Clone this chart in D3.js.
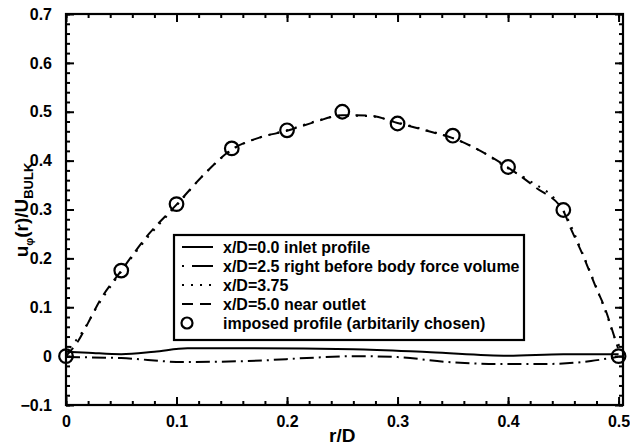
<!DOCTYPE html>
<html>
<head>
<meta charset="utf-8">
<script src="https://cdn.jsdelivr.net/npm/d3@7"></script>
<style>
  body { margin: 0; background: #fff; }
  text { font-family: "Liberation Sans", Arial, sans-serif; font-weight: bold; fill: #000; }
</style>
</head>
<body>
<div id="chart"></div>
<script>
// ---- data ----
var xTicks = [0, 0.1, 0.2, 0.3, 0.4, 0.5];
var yTicks = [-0.1, 0, 0.1, 0.2, 0.3, 0.4, 0.5, 0.6, 0.7];
var yTickLabels = ['\u22120.1', '0', '0.1', '0.2', '0.3', '0.4', '0.5', '0.6', '0.7'];

// x/D=0.0 inlet profile
var inletR = [0, 0.02, 0.05, 0.08, 0.11, 0.17, 0.26, 0.33, 0.40, 0.45, 0.50];
var inletU = [0.009, 0.007, 0.004, 0.009, 0.016, 0.016, 0.014, 0.008, 0.001, 0.004, 0.004];

// x/D=2.5 right before body force volume
var preR = [0, 0.05, 0.105, 0.165, 0.225, 0.26, 0.30, 0.345, 0.39, 0.435, 0.475, 0.50];
var preU = [-0.002, -0.004, -0.012, -0.01, -0.003, 0.0, -0.002, -0.012, -0.016, -0.016, -0.01, -0.001];

// x/D=3.75
var midR = [0, 0.004, 0.012, 0.03, 0.05, 0.075, 0.1, 0.125, 0.15, 0.175, 0.2, 0.225, 0.25, 0.275, 0.3, 0.325, 0.35, 0.375, 0.4, 0.42, 0.45, 0.468, 0.48, 0.49, 0.497, 0.501];
var midU = [0.0, 0.018, 0.04, 0.108, 0.173, 0.246, 0.308, 0.372, 0.422, 0.447, 0.462, 0.48, 0.492, 0.491, 0.478, 0.463, 0.446, 0.42, 0.384, 0.358, 0.298, 0.207, 0.14, 0.08, 0.035, 0.02];

// x/D=5.0 near outlet
var outR = [0, 0.011, 0.02, 0.031, 0.05, 0.075, 0.1, 0.125, 0.15, 0.175, 0.2, 0.225, 0.25, 0.275, 0.3, 0.325, 0.35, 0.375, 0.4, 0.425, 0.45, 0.456, 0.468, 0.48, 0.488, 0.494, 0.4995];
var outU = [0.0, 0.031, 0.068, 0.115, 0.175, 0.25, 0.31, 0.372, 0.423, 0.447, 0.461, 0.479, 0.493, 0.492, 0.477, 0.462, 0.446, 0.42, 0.386, 0.345, 0.297, 0.265, 0.205, 0.138, 0.096, 0.055, 0.016];

// imposed profile (arbitarily chosen)
var impR = [0, 0.05, 0.1, 0.15, 0.2, 0.25, 0.3, 0.35, 0.4, 0.45, 0.5];
var impU = [0, 0.175, 0.311, 0.425, 0.462, 0.5, 0.476, 0.451, 0.387, 0.299, 0];

var legendLabels = [
  'x/D=0.0 inlet profile',
  'x/D=2.5 right before body force volume',
  'x/D=3.75',
  'x/D=5.0 near outlet',
  'imposed profile (arbitarily chosen)'
];

var W = 630, H = 445;
var svg = d3.select('#chart').append('svg')
  .attr('width', W).attr('height', H);

var x = d3.scaleLinear().domain([0, 0.504]).range([66, 623]);
var y = d3.scaleLinear().domain([-0.1, 0.7]).range([405, 14]);

var minorX = d3.range(0, 0.5001, 0.02);
var minorY = d3.range(-0.1, 0.7001, 0.02);

// ticks, pointing inwards on all four sides
function ticks(axis, pos, vals, len, labels) {
  var g = svg.append('g').attr('transform', pos)
    .call(axis.tickValues(vals).tickSize(-len).tickPadding(len + 6)
      .tickFormat(labels ? function(d, i) { return labels[i]; } : ''));
  g.select('.domain').remove();
  g.selectAll('line').attr('stroke', '#000').attr('stroke-width', 2);
  g.selectAll('text').style('font-size', '16px').style('font-family', '"Liberation Sans", Arial, sans-serif');
  return g;
}
ticks(d3.axisBottom(x), 'translate(0,405)', minorX, 4);
ticks(d3.axisTop(x), 'translate(0,14)', minorX, 4);
ticks(d3.axisLeft(y), 'translate(66,0)', minorY, 4);
ticks(d3.axisRight(y), 'translate(623,0)', minorY, 4);
ticks(d3.axisTop(x), 'translate(0,14)', xTicks, 8);
ticks(d3.axisRight(y), 'translate(623,0)', yTicks, 8);
ticks(d3.axisBottom(x), 'translate(0,405)', xTicks, 8, xTicks.map(String))
  .selectAll('text').attr('dy', '0.5em');
ticks(d3.axisLeft(y), 'translate(66,0)', yTicks, 8, yTickLabels);

// frame
svg.append('rect')
  .attr('x', x(0)).attr('y', y(0.7))
  .attr('width', x(0.504) - x(0)).attr('height', y(-0.1) - y(0.7))
  .attr('fill', 'none').attr('stroke', '#000').attr('stroke-width', 2.2);

var line = d3.line()
  .x(function(d) { return x(d[0]); })
  .y(function(d) { return y(d[1]); })
  .curve(d3.curveMonotoneX);

var series = [
  { r: inletR, u: inletU, dash: null },
  { r: preR, u: preU, dash: '14,5,2,5' },
  { r: midR, u: midU, dash: '2,7' },
  { r: outR, u: outU, dash: '11,7' }
];

series.forEach(function(s) {
  svg.append('path')
    .datum(d3.zip(s.r, s.u))
    .attr('d', line)
    .attr('fill', 'none')
    .attr('stroke', '#000')
    .attr('stroke-width', 2)
    .attr('stroke-dasharray', s.dash);
});

svg.append('g').selectAll('circle')
  .data(d3.zip(impR, impU))
  .enter().append('circle')
  .attr('cx', function(d) { return x(d[0]); })
  .attr('cy', function(d) { return y(d[1]); })
  .attr('r', 6.8)
  .attr('fill', 'none')
  .attr('stroke', '#000')
  .attr('stroke-width', 2.2);

// legend
var lg = svg.append('g');
lg.append('rect')
  .attr('x', 174).attr('y', 235).attr('width', 350).attr('height', 105)
  .attr('fill', '#fff').attr('stroke', '#000').attr('stroke-width', 2.2);

legendLabels.forEach(function(lab, i) {
  var ly = 247 + i * 19;
  if (i < 4) {
    lg.append('line')
      .attr('x1', 182).attr('x2', 213).attr('y1', ly).attr('y2', ly)
      .attr('stroke', '#000').attr('stroke-width', 2)
      .attr('stroke-dasharray', i == 1 ? '2,8,22' : series[i].dash);
  } else {
    lg.append('circle')
      .attr('cx', 187).attr('cy', ly).attr('r', 5.5)
      .attr('fill', 'none').attr('stroke', '#000').attr('stroke-width', 2.2);
  }
  lg.append('text')
    .attr('x', 223).attr('y', ly).attr('dy', '0.36em')
    .style('font-size', '16px')
    .text(lab);
});

// axis titles
svg.append('text')
  .attr('x', x(0.25)).attr('y', 442)
  .attr('text-anchor', 'middle')
  .style('font-size', '19px')
  .text('r/D');

var yt = svg.append('text')
  .attr('transform', 'translate(28,210) rotate(-90)')
  .attr('text-anchor', 'middle')
  .style('font-size', '19px');
yt.append('tspan').text('u');
yt.append('tspan').attr('dy', 5).style('font-size', '11px').text('\u03c6');
yt.append('tspan').attr('dy', -5).text('(r)/U');
yt.append('tspan').attr('dy', 5).style('font-size', '13px').text('BULK');
</script>
</body>
</html>
